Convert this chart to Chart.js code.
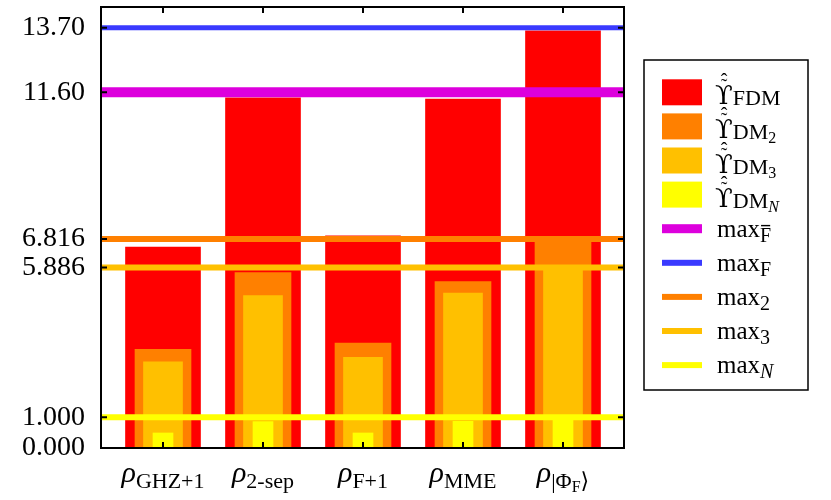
<!DOCTYPE html>
<html>
<head>
<meta charset="utf-8">
<script src="https://cdn.jsdelivr.net/npm/chart.js@4/dist/chart.umd.min.js"></script>
<style>
  html, body { margin: 0; padding: 0; background: #fff; }
  #wrap { width: 831px; height: 500px; }
</style>
</head>
<body>
<div id="wrap"><canvas id="c"></canvas></div>
<script>
// category labels: rho with subscript pieces [text, level]
const categories = ["GHZ+1", "2-sep", "F+1", "MME", "|ΦF⟩"];
const xLabelParts = [
  [["ρ", 0], ["GHZ+1", 1]],
  [["ρ", 0], ["2-sep", 1]],
  [["ρ", 0], ["F+1", 1]],
  [["ρ", 0], ["MME", 1]],
  [["ρ", 0], ["|Φ", 1], ["F", 2], ["⟩", 1]]
];

// bar series (nested, drawn back to front)
const fdm = [6.55, 11.42, 6.92, 11.38, 13.6];
const dm2 = [3.22, 5.72, 3.42, 5.43, 6.75];
const dm3 = [2.81, 4.97, 2.96, 5.05, 5.8];
const dmN = [0.49, 0.86, 0.49, 0.87, 0.95];

// horizontal maximum levels
const maxFbar = 11.6;
const maxF = 13.7;
const max2 = 6.816;
const max3 = 5.886;
const maxN = 1.0;

// y tick values and their printed labels
const yTicks = [0, 1, 5.886, 6.816, 11.6, 13.7];
const yTickLabels = ["0.000", "1.000", "5.886", "6.816", "11.60", "13.70"];

const X_MIN = -0.62, X_MAX = 4.61;
const SERIF = "'Liberation Serif', 'DejaVu Serif', serif";

function barSet(label, values, color, width, order) {
  return {
    type: "bar",
    label: label,
    data: values.map((v, i) => ({ x: i, y: v })),
    backgroundColor: color,
    borderWidth: 0,
    barThickness: width,
    grouped: false,
    order: order
  };
}

function lineSet(label, value, color, width, order) {
  return {
    type: "line",
    label: label,
    data: [{ x: X_MIN, y: value }, { x: X_MAX, y: value }],
    borderColor: color,
    borderWidth: width,
    pointRadius: 0,
    borderCapStyle: "butt",
    order: order
  };
}

// legend rows: swatch type, colour, rich text pieces
const legendRows = [
  { kind: "box", color: "#ff0000", deco: true, parts: [["ϒ", 0], ["FDM", 1]] },
  { kind: "box", color: "#ff8000", deco: true, parts: [["ϒ", 0], ["DM", 1], ["2", 2]] },
  { kind: "box", color: "#ffc000", deco: true, parts: [["ϒ", 0], ["DM", 1], ["3", 2]] },
  { kind: "box", color: "#ffff00", deco: true, parts: [["ϒ", 0], ["DM", 1], ["N", 2, true]] },
  { kind: "line", color: "#dd00dd", lw: 9, parts: [["max", 0], ["F", 1, false, true]] },
  { kind: "line", color: "#3a3aff", lw: 6, parts: [["max", 0], ["F", 1]] },
  { kind: "line", color: "#ff8000", lw: 6, parts: [["max", 0], ["2", 1]] },
  { kind: "line", color: "#ffc000", lw: 6, parts: [["max", 0], ["3", 1]] },
  { kind: "line", color: "#ffff00", lw: 6, parts: [["max", 0], ["N", 1, true]] }
];

function fontFor(p, size) {
  const italic = p[2] || (p[0] === "ρ");
  const fam = p[0] === "ϒ" ? "'DejaVu Serif', serif" : SERIF;
  return (italic ? "italic " : "") + size + "px " + fam;
}

function drawRich(ctx, x, y, parts, sizes, drops) {
  let cx = x;
  parts.forEach(p => {
    const lvl = p[1];
    ctx.font = fontFor(p, sizes[lvl]);
    ctx.fillText(p[0], cx, y + drops[lvl]);
    const w = ctx.measureText(p[0]).width;
    if (p[3]) {
      // overline bar above the letter
      ctx.fillRect(cx + 1, y + drops[lvl] - sizes[lvl] * 0.84, w - 2, 1.4);
    }
    cx += w;
  });
  return cx - x;
}

function richWidth(ctx, parts, sizes) {
  let w = 0;
  parts.forEach(p => {
    ctx.font = fontFor(p, sizes[p[1]]);
    w += ctx.measureText(p[0]).width;
  });
  return w;
}

const decorPlugin = {
  id: "decor",
  afterDraw(chart) {
    const ctx = chart.ctx;
    const a = chart.chartArea;
    const xs = chart.scales.x, ys = chart.scales.y;
    ctx.save();
    ctx.fillStyle = "#000";
    ctx.strokeStyle = "#000";

    // frame and inward ticks
    ctx.lineWidth = 2;
    ctx.strokeRect(a.left, a.top, a.right - a.left, a.bottom - a.top);
    ctx.beginPath();
    yTicks.forEach(v => {
      const py = ys.getPixelForValue(v);
      ctx.moveTo(a.left, py); ctx.lineTo(a.left + 6, py);
      ctx.moveTo(a.right, py); ctx.lineTo(a.right - 6, py);
    });
    categories.forEach((c, i) => {
      const px = xs.getPixelForValue(i);
      ctx.moveTo(px, a.top); ctx.lineTo(px, a.top + 6);
      ctx.moveTo(px, a.bottom); ctx.lineTo(px, a.bottom - 6);
    });
    ctx.stroke();

    // x category labels
    ctx.textBaseline = "alphabetic";
    ctx.textAlign = "left";
    const xSizes = [30, 22, 16], xDrops = [0, 6, 10];
    xLabelParts.forEach((parts, i) => {
      const w = richWidth(ctx, parts, xSizes);
      const px = xs.getPixelForValue(i);
      drawRich(ctx, px - w / 2, 482, parts, xSizes, xDrops);
    });

    // legend
    const lx = 644, ly = 60, lw = 164, lh = 330;
    ctx.lineWidth = 1.5;
    ctx.strokeRect(lx, ly, lw, lh);
    legendRows.forEach((r, i) => {
      const cy = 92.3 + i * 34.1;
      ctx.fillStyle = r.color;
      if (r.kind === "box") {
        ctx.fillRect(662, cy - 13, 40, 26);
      } else {
        ctx.fillRect(662, cy - r.lw / 2, 40, r.lw);
      }
      ctx.fillStyle = "#000";
      if (r.deco) {
        const base = cy + 12;
        drawRich(ctx, 715, base, r.parts, [26, 22, 16], [0, 1, 5]);
        // hat over tilde above the upsilon
        ctx.font = "20px " + SERIF;
        ctx.textAlign = "center";
        ctx.fillText("˜", 724, base - 11);
        ctx.fillText("ˆ", 724, base - 16);
        ctx.textAlign = "left";
      } else {
        drawRich(ctx, 717, cy + 8, r.parts, [25, 20, 15], [0, 5, 9]);
      }
    });
    ctx.restore();
  }
};

new Chart(document.getElementById("c"), {
  data: {
    datasets: [
      barSet("FDM", fdm, "#ff0000", 75, 9),
      barSet("DM2", dm2, "#ff8000", 56, 8),
      barSet("DM3", dm3, "#ffc000", 39, 7),
      barSet("DMN", dmN, "#ffff00", 20, 6),
      lineSet("max Fbar", maxFbar, "#dd00dd", 10, 5),
      lineSet("max F", maxF, "#3a3aff", 5, 4),
      lineSet("max 2", max2, "#ff8000", 6, 3),
      lineSet("max 3", max3, "#ffc000", 6, 2),
      lineSet("max N", maxN, "#ffff00", 6, 1)
    ]
  },
  options: {
    responsive: true,
    maintainAspectRatio: false,
    animation: false,
    devicePixelRatio: 1,
    layout: { padding: { left: 0, right: 207, top: 7, bottom: 0 } },
    plugins: { legend: { display: false }, tooltip: { enabled: false } },
    scales: {
      x: {
        type: "linear",
        min: X_MIN,
        max: X_MAX,
        offset: false,
        grid: { display: false, drawTicks: false },
        border: { display: false },
        ticks: { display: false },
        afterFit(s) { s.height = 52; s.paddingLeft = 0; s.paddingRight = 0; }
      },
      y: {
        type: "linear",
        min: 0,
        max: 14.38,
        grid: { display: false, drawTicks: false },
        border: { display: false },
        afterBuildTicks(s) { s.ticks = yTicks.map(v => ({ value: v })); },
        ticks: {
          padding: 16,
          color: "#000",
          font: { family: SERIF, size: 28 },
          callback: (v, i) => yTickLabels[i]
        },
        afterFit(s) { s.width = 101; s.paddingTop = 0; s.paddingBottom = 0; }
      }
    }
  },
  plugins: [decorPlugin]
});
</script>
</body>
</html>
